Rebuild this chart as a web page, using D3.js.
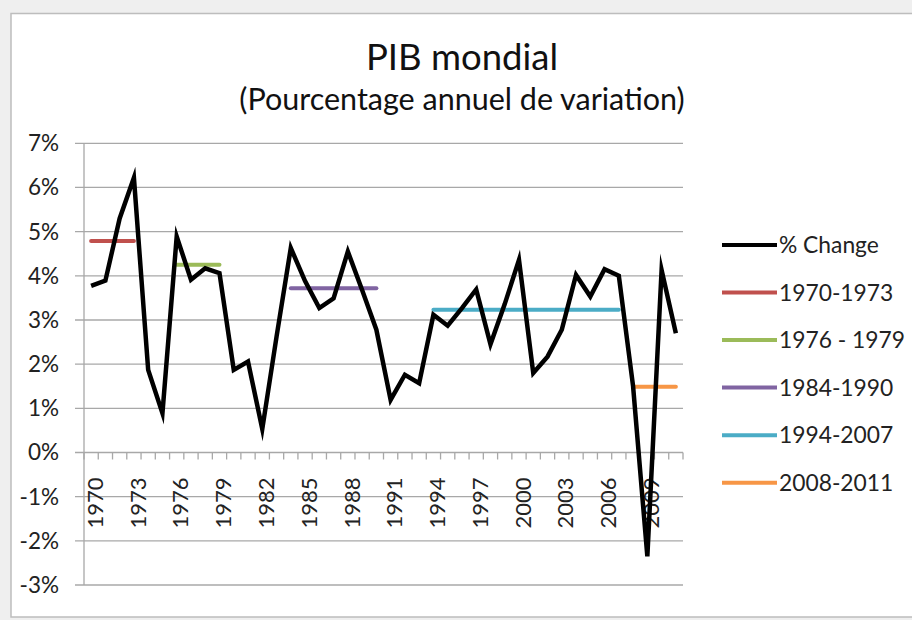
<!DOCTYPE html>
<html>
<head>
<meta charset="utf-8">
<script src="https://cdn.jsdelivr.net/npm/d3@7"></script>
<style>
  html, body { margin: 0; padding: 0; background: #efefef; }
  svg { display: block; }
  text { font-family: Lato, "Open Sans", sans-serif; }
</style>
</head>
<body>
<svg id="chart" width="912" height="620"></svg>
<script>
// ---- data ----
const years = d3.range(1970, 2012);
const pctChange = [
  3.77, 3.89, 5.30, 6.22, 1.87, 0.89, 4.89, 3.91, 4.17, 4.06,
  1.87, 2.06, 0.53, 2.62, 4.63, 3.88, 3.27, 3.49, 4.55, 3.68,
  2.78, 1.19, 1.76, 1.57, 3.12, 2.87, 3.27, 3.69, 2.45, 3.36,
  4.36, 1.80, 2.17, 2.78, 4.02, 3.53, 4.15, 4.00, 1.50, -2.35,
  4.13, 2.70
];
const periodLabels = ["1970-1973", "1976 - 1979", "1984-1990", "1994-2007", "2008-2011"];
const periodStart  = [1970, 1976, 1984, 1994, 2008];
const periodEnd    = [1973, 1979, 1990, 2007, 2011];
const periodValues = [4.79, 4.25, 3.72, 3.23, 1.49];
const periodColors = ["#c0504d", "#9bbb59", "#8064a2", "#4bacc6", "#f79646"];
const yTicks = [-3, -2, -1, 0, 1, 2, 3, 4, 5, 6, 7];
const xLabelYears = d3.range(1970, 2012, 3);

// ---- layout ----
const svg = d3.select("#chart");
const plotL = 84, plotR = 683, plotT = 143.3, plotB = 585;

// chart area
svg.append("rect").attr("x", 11).attr("y", 13.5).attr("width", 920).attr("height", 603.5)
  .attr("fill", "#ffffff").attr("stroke", "#bdbdbd").attr("stroke-width", 1.5);

const x = d3.scaleBand().domain(years).range([plotL, plotR]).padding(0);
const cx = d => x(d) + x.bandwidth() / 2;
const y = d3.scaleLinear().domain([-3, 7]).range([plotB, plotT]);

// titles
svg.append("text").attr("x", 462).attr("y", 70).attr("text-anchor", "middle")
  .attr("font-size", 36.5).attr("fill", "#111").text("PIB mondial");
svg.append("text").attr("x", 462).attr("y", 110).attr("text-anchor", "middle")
  .attr("font-size", 30.5).attr("fill", "#111").text("(Pourcentage annuel de variation)");

// gridlines + y axis
const grid = "#a8a8a8";
svg.append("g").selectAll("line").data(yTicks).join("line")
  .attr("x1", plotL - 9).attr("x2", plotR)
  .attr("y1", d => y(d)).attr("y2", d => y(d))
  .attr("stroke", grid).attr("stroke-width", 1.3);
svg.append("line").attr("x1", plotL).attr("x2", plotL).attr("y1", y(7)).attr("y2", y(-3))
  .attr("stroke", grid).attr("stroke-width", 1.3);
svg.append("g").selectAll("text").data(yTicks).join("text")
  .attr("x", 59).attr("y", d => y(d)).attr("dy", "0.35em")
  .attr("text-anchor", "end").attr("font-size", 22.5).attr("fill", "#222")
  .text(d => d + "%");

// x axis ticks at category boundaries
const bounds = years.map(d => x(d)).concat([plotR]);
svg.append("g").selectAll("line").data(bounds).join("line")
  .attr("x1", d => d).attr("x2", d => d)
  .attr("y1", y(0)).attr("y2", y(0) + 7)
  .attr("stroke", grid).attr("stroke-width", 1.3);

// x labels
svg.append("g").selectAll("text").data(xLabelYears).join("text")
  .attr("transform", d => `translate(${cx(d) + 4},${y(0) + 25}) rotate(-90)`)
  .attr("dy", "0.35em").attr("text-anchor", "end")
  .attr("font-size", 22).attr("fill", "#222")
  .text(d => d);

// period average lines
periodLabels.forEach((lab, i) => {
  svg.append("line")
    .attr("x1", cx(periodStart[i])).attr("x2", cx(periodEnd[i]))
    .attr("y1", y(periodValues[i])).attr("y2", y(periodValues[i]))
    .attr("stroke", periodColors[i]).attr("stroke-width", 4).attr("stroke-linecap", "round");
});

// main line
const line = d3.line().x((d, i) => cx(years[i])).y(d => y(d));
svg.append("path").datum(pctChange).attr("d", line)
  .attr("fill", "none").attr("stroke", "#000").attr("stroke-width", 4.5)
  .attr("stroke-linejoin", "miter").attr("stroke-miterlimit", 10);

// legend
const legNames = ["% Change"].concat(periodLabels);
const legColors = ["#000"].concat(periodColors);
const legY = d3.scalePoint().domain(d3.range(legNames.length)).range([245, 482.7]);
const leg = svg.append("g");
legNames.forEach((n, i) => {
  leg.append("line").attr("x1", 722).attr("x2", 777)
    .attr("y1", legY(i)).attr("y2", legY(i))
    .attr("stroke", legColors[i]).attr("stroke-width", 4);
  leg.append("text").attr("x", 779).attr("y", legY(i)).attr("dy", "0.35em")
    .attr("font-size", 22.8).attr("fill", "#222").text(n);
});
</script>
</body>
</html>
